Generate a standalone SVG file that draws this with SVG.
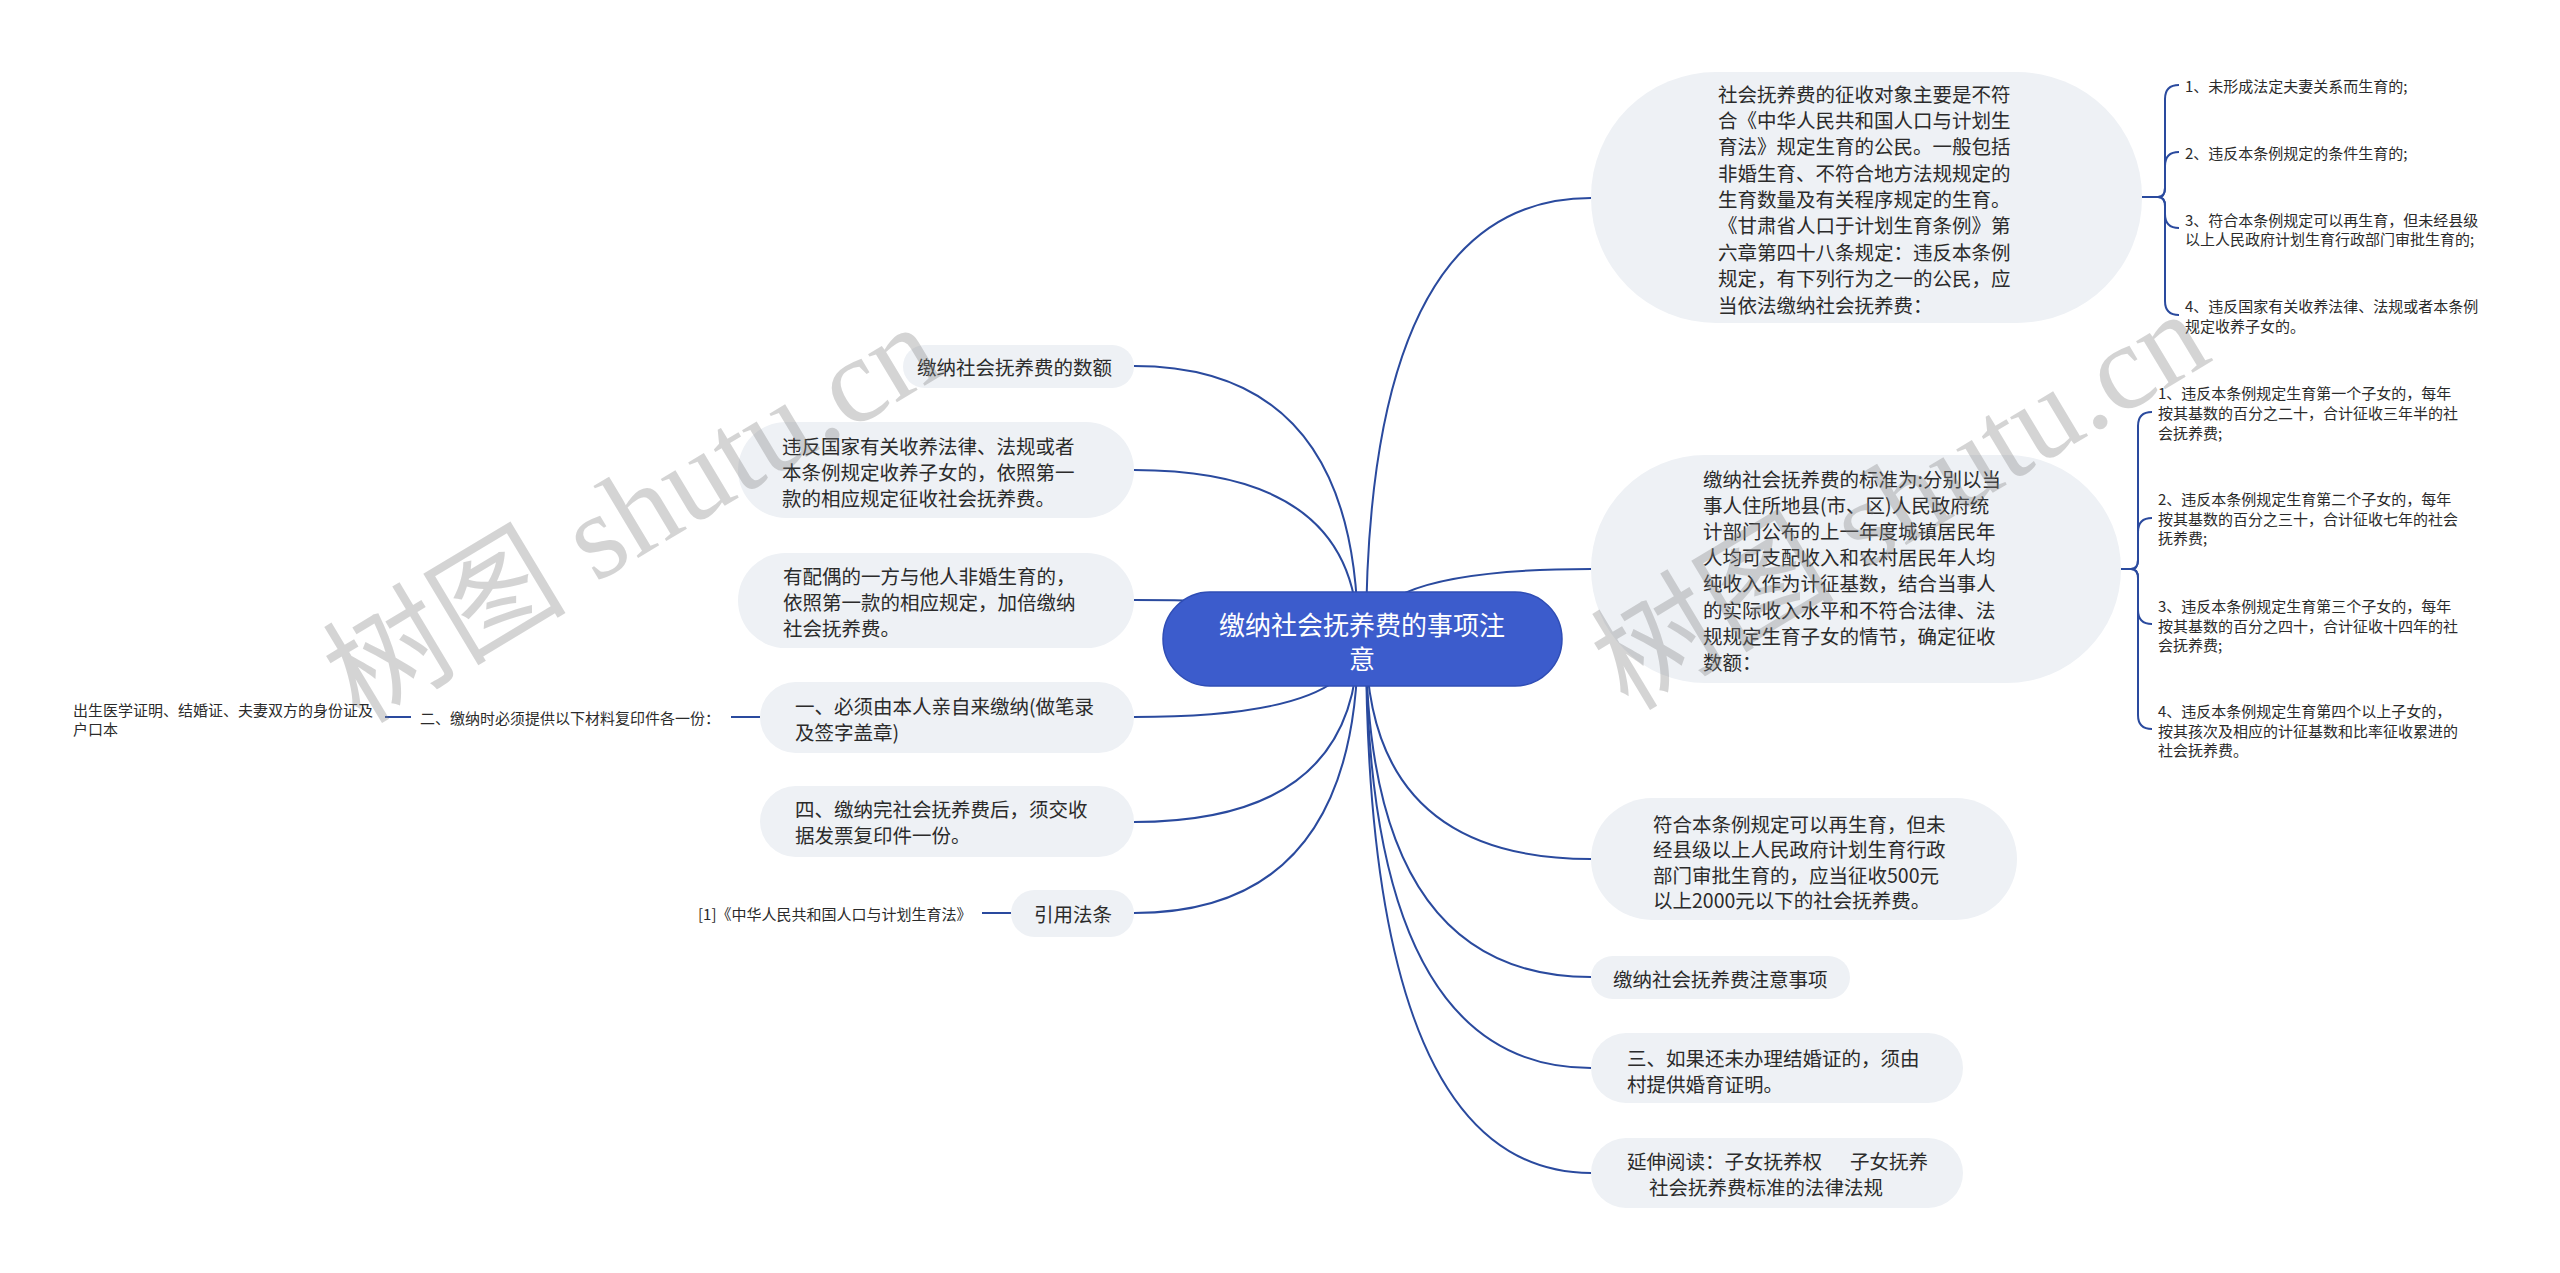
<svg xmlns="http://www.w3.org/2000/svg" width="2560" height="1273" viewBox="0 0 2560 1273">
<style>
.bg{fill:#ffffff}
.node rect{fill:#eef1f5}
.t{font-family:'Noto Sans CJK SC','Noto Sans',sans-serif;font-size:19.5px;fill:#2b2b2b;dominant-baseline:central}
.s{font-family:'Noto Sans CJK SC','Noto Sans',sans-serif;font-size:15px;fill:#2b2b2b;dominant-baseline:central}
.link{fill:none;stroke:#2a4a9e;stroke-width:2}
.root rect{fill:#3c5ccc;stroke:#2f4db5;stroke-width:1.5}
.rt{font-family:'Noto Sans CJK SC','Noto Sans',sans-serif;font-size:26px;fill:#ffffff;dominant-baseline:central;text-anchor:middle}
.wm{font-family:'Liberation Serif','Noto Sans CJK SC',serif;font-size:122px;fill:#808080;opacity:0.33}
</style>
<rect class="bg" x="0" y="0" width="2560" height="1273"/>

<g id="connectors">
  <path class="link" d="M1358 639 Q1358 366 1134 366"/>
  <path class="link" d="M1358 639 Q1358 470 1134 470"/>
  <path class="link" d="M1358 639 Q1358 600 1134 600"/>
  <path class="link" d="M1358 639 Q1358 717 1134 717"/>
  <path class="link" d="M1358 639 Q1358 822 1134 822"/>
  <path class="link" d="M1358 639 Q1358 913 1134 913"/>
  <path class="link" d="M1366 639 Q1366 198 1591 198"/>
  <path class="link" d="M1366 639 Q1366 569 1591 569"/>
  <path class="link" d="M1366 639 Q1366 859 1591 859"/>
  <path class="link" d="M1366 639 Q1366 977 1591 977"/>
  <path class="link" d="M1366 639 Q1366 1068 1591 1068"/>
  <path class="link" d="M1366 639 Q1366 1173 1591 1173"/>
  <!-- node1 children brace -->
  <path class="link" d="M2142 197 L2160 197"/>
  <path class="link" d="M2158 197 Q2165 197 2165 188 L2165 99 Q2165 85 2179 85"/>
  <path class="link" d="M2158 197 Q2165 197 2165 188 L2165 166 Q2165 152 2179 152"/>
  <path class="link" d="M2158 197 Q2165 197 2165 206 L2165 214 Q2165 228 2179 228"/>
  <path class="link" d="M2158 197 Q2165 197 2165 206 L2165 301 Q2165 315 2179 315"/>
  <!-- node2 children brace -->
  <path class="link" d="M2121 569 L2134 569"/>
  <path class="link" d="M2131 569 Q2138 569 2138 560 L2138 426 Q2138 412 2152 412"/>
  <path class="link" d="M2131 569 Q2138 569 2138 560 L2138 532 Q2138 518 2152 518"/>
  <path class="link" d="M2131 569 Q2138 569 2138 578 L2138 610 Q2138 624 2152 624"/>
  <path class="link" d="M2131 569 Q2138 569 2138 578 L2138 715 Q2138 729 2152 729"/>
  <!-- left stubs -->
  <path class="link" d="M731 717 L760 717"/>
  <path class="link" d="M385 717 L411 717"/>
  <path class="link" d="M982 913 L1011 913"/>
</g>

<g id="root" class="root">
  <rect x="1163" y="592" width="399" height="94" rx="47"/>
  <text class="rt" x="1362" y="623">缴纳社会抚养费的事项注</text>
  <text class="rt" x="1362" y="657">意</text>
</g>

<g id="n1" class="node">
  <rect x="1591" y="72" width="551" height="251" rx="125"/>
  <text class="t" x="1718" y="93">社会抚养费的征收对象主要是不符</text>
  <text class="t" x="1718" y="119.4">合《中华人民共和国人口与计划生</text>
  <text class="t" x="1718" y="145.8">育法》规定生育的公民。一般包括</text>
  <text class="t" x="1718" y="172.1">非婚生育、不符合地方法规规定的</text>
  <text class="t" x="1718" y="198.5">生育数量及有关程序规定的生育。</text>
  <text class="t" x="1718" y="224.9">《甘肃省人口于计划生育条例》第</text>
  <text class="t" x="1718" y="251.3">六章第四十八条规定：违反本条例</text>
  <text class="t" x="1718" y="277.6">规定，有下列行为之一的公民，应</text>
  <text class="t" x="1718" y="304">当依法缴纳社会抚养费：</text>
</g>
<g id="n1c1"><text class="s" x="2185" y="85">1、未形成法定夫妻关系而生育的;</text></g>
<g id="n1c2"><text class="s" x="2185" y="152">2、违反本条例规定的条件生育的;</text></g>
<g id="n1c3">
  <text class="s" x="2185" y="219">3、符合本条例规定可以再生育，但未经县级</text>
  <text class="s" x="2185" y="238">以上人民政府计划生育行政部门审批生育的;</text>
</g>
<g id="n1c4">
  <text class="s" x="2185" y="305">4、违反国家有关收养法律、法规或者本条例</text>
  <text class="s" x="2185" y="325">规定收养子女的。</text>
</g>

<g id="n2" class="node">
  <rect x="1591" y="455" width="530" height="228" rx="114"/>
  <text class="t" x="1703" y="478">缴纳社会抚养费的标准为:分别以当</text>
  <text class="t" x="1703" y="504.2">事人住所地县(市、区)人民政府统</text>
  <text class="t" x="1703" y="530.4">计部门公布的上一年度城镇居民年</text>
  <text class="t" x="1703" y="556.6">人均可支配收入和农村居民年人均</text>
  <text class="t" x="1703" y="582.8">纯收入作为计征基数，结合当事人</text>
  <text class="t" x="1703" y="609">的实际收入水平和不符合法律、法</text>
  <text class="t" x="1703" y="635.2">规规定生育子女的情节，确定征收</text>
  <text class="t" x="1703" y="661.4">数额：</text>
</g>
<g id="n2c1">
  <text class="s" x="2158" y="392">1、违反本条例规定生育第一个子女的，每年</text>
  <text class="s" x="2158" y="412">按其基数的百分之二十，合计征收三年半的社</text>
  <text class="s" x="2158" y="432">会抚养费;</text>
</g>
<g id="n2c2">
  <text class="s" x="2158" y="498">2、违反本条例规定生育第二个子女的，每年</text>
  <text class="s" x="2158" y="518">按其基数的百分之三十，合计征收七年的社会</text>
  <text class="s" x="2158" y="537">抚养费;</text>
</g>
<g id="n2c3">
  <text class="s" x="2158" y="605">3、违反本条例规定生育第三个子女的，每年</text>
  <text class="s" x="2158" y="625">按其基数的百分之四十，合计征收十四年的社</text>
  <text class="s" x="2158" y="644">会抚养费;</text>
</g>
<g id="n2c4">
  <text class="s" x="2158" y="710">4、违反本条例规定生育第四个以上子女的，</text>
  <text class="s" x="2158" y="730">按其孩次及相应的计征基数和比率征收累进的</text>
  <text class="s" x="2158" y="749">社会抚养费。</text>
</g>

<g id="n3" class="node">
  <rect x="1591" y="798" width="426" height="122" rx="61"/>
  <text class="t" x="1653" y="823">符合本条例规定可以再生育，但未</text>
  <text class="t" x="1653" y="848.5">经县级以上人民政府计划生育行政</text>
  <text class="t" x="1653" y="874">部门审批生育的，应当征收500元</text>
  <text class="t" x="1653" y="899.5">以上2000元以下的社会抚养费。</text>
</g>
<g id="n4" class="node">
  <rect x="1591" y="956" width="259" height="43" rx="21.5"/>
  <text class="t" x="1613" y="978">缴纳社会抚养费注意事项</text>
</g>
<g id="n5" class="node">
  <rect x="1591" y="1033" width="372" height="70" rx="35"/>
  <text class="t" x="1627" y="1057">三、如果还未办理结婚证的，须由</text>
  <text class="t" x="1627" y="1083">村提供婚育证明。</text>
</g>
<g id="n6" class="node">
  <rect x="1591" y="1138" width="372" height="70" rx="35"/>
  <text class="t" x="1627" y="1160">延伸阅读：子女抚养权</text>
  <text class="t" x="1850" y="1160">子女抚养</text>
  <text class="t" x="1649" y="1186">社会抚养费标准的法律法规</text>
</g>

<g id="l1" class="node">
  <rect x="903" y="345" width="231" height="43" rx="21.5"/>
  <text class="t" x="917" y="366">缴纳社会抚养费的数额</text>
</g>
<g id="l2" class="node">
  <rect x="738" y="422" width="396" height="96" rx="48"/>
  <text class="t" x="782" y="445">违反国家有关收养法律、法规或者</text>
  <text class="t" x="782" y="471">本条例规定收养子女的，依照第一</text>
  <text class="t" x="782" y="497">款的相应规定征收社会抚养费。</text>
</g>
<g id="l3" class="node">
  <rect x="738" y="553" width="396" height="95" rx="47.5"/>
  <text class="t" x="783" y="575">有配偶的一方与他人非婚生育的，</text>
  <text class="t" x="783" y="601">依照第一款的相应规定，加倍缴纳</text>
  <text class="t" x="783" y="627">社会抚养费。</text>
</g>
<g id="l4" class="node">
  <rect x="760" y="682" width="374" height="71" rx="35.5"/>
  <text class="t" x="795" y="705">一、必须由本人亲自来缴纳(做笔录</text>
  <text class="t" x="795" y="731">及签字盖章)</text>
</g>
<g id="l4c"><text class="s" x="420" y="717">二、缴纳时必须提供以下材料复印件各一份：</text></g>
<g id="l4cc">
  <text class="s" x="73" y="709">出生医学证明、结婚证、夫妻双方的身份证及</text>
  <text class="s" x="73" y="728">户口本</text>
</g>
<g id="l5" class="node">
  <rect x="760" y="786" width="374" height="71" rx="35.5"/>
  <text class="t" x="795" y="808.5">四、缴纳完社会抚养费后，须交收</text>
  <text class="t" x="795" y="834.5">据发票复印件一份。</text>
</g>
<g id="l6" class="node">
  <rect x="1011" y="890" width="123" height="47" rx="23.5"/>
  <text class="t" x="1034" y="913">引用法条</text>
</g>
<g id="l6c"><text class="s" x="698" y="913">[1]《中华人民共和国人口与计划生育法》</text></g>

<g id="watermarks">
  <text class="wm" transform="translate(360 725) rotate(-31)">树图 shutu.cn</text>
  <text class="wm" transform="translate(1628 712) rotate(-31)">树图 shutu.cn</text>
</g>
</svg>
